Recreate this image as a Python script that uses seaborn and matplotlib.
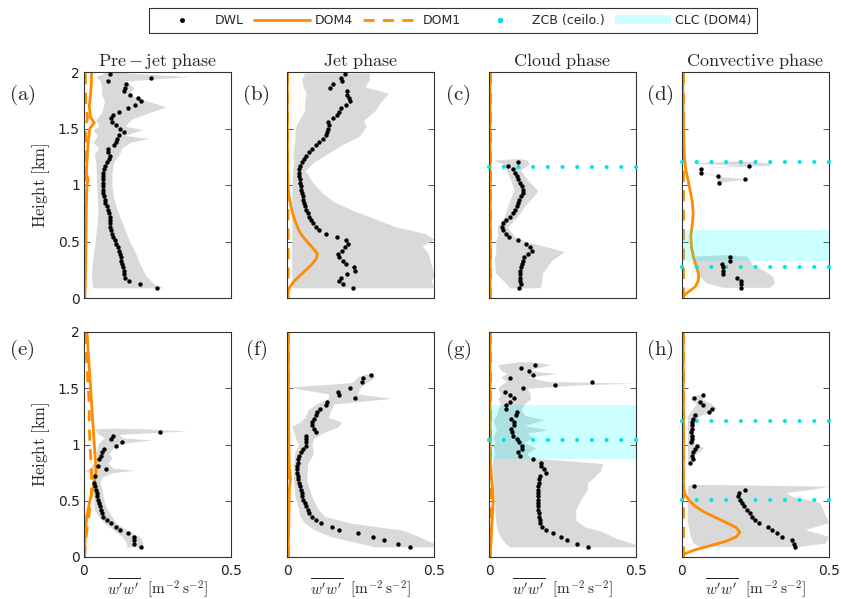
import numpy as np
import matplotlib
matplotlib.use("Agg")
import matplotlib.pyplot as plt
from matplotlib.lines import Line2D
from matplotlib.patches import Patch
import seaborn as sns

nan = float("nan")

# ---------------- data ----------------
# DWL range-gate heights (km)
gates = [0.09, 0.12, 0.15, 0.18, 0.21, 0.24, 0.27, 0.30, 0.33, 0.36,
         0.39, 0.42, 0.45, 0.48, 0.51, 0.54, 0.57, 0.60, 0.63, 0.66,
         0.69, 0.72, 0.75, 0.78, 0.81, 0.84, 0.87, 0.90, 0.93, 0.96,
         0.99, 1.02, 1.05, 1.08, 1.11, 1.14, 1.17, 1.20, 1.23, 1.26,
         1.29, 1.32, 1.35, 1.38, 1.41, 1.44, 1.47, 1.50, 1.53, 1.56,
         1.59, 1.62, 1.65, 1.68, 1.71, 1.74, 1.77, 1.80, 1.83, 1.86,
         1.89, 1.92, 1.95, 1.98]

N10 = [nan] * 10
N4 = [nan] * 4

dwl_a = [.248, .189, .153, .139, .135, .136, .133, .130, .127, .125,
         .122, .118, .114, .108, .104, .099, .096, .092, .090, .088,
         .088, .087, .086, .081, .077, .073, .071, .068, .065, .064,
         .064, .063, .063, .064, .065, .069, .072, .079, .086, .088,
         .082, .082, .101, .110, .113, .120, .135, .122, .110, .096,
         .093, .100, .120, .150, .175, .195, .185, .155, .135, .139,
         .144, .083, .229, .090]
dwl_b = [.223, .190, .178, .182, .205, .231, .228, .200, .190, .178,
         .175, .186, .197, .209, .200, .169, .133, .110, .098, .090,
         .082, .075, .070, .066, .061, .058, .056, .053, .051, .049,
         .047, .045, .043, .041, .040, .041, .044, .050, .058, .065,
         .075, .086, .099, .110, .122, .133, .137, .141, .143, .141,
         .155, .169, .177, .184, .200, .214, .212, .205, .204, .146,
         .158, .186, .184, .197]
dwl_c = [.102, .108, .106, .105, .105, .106, .108, .113, .117, .119,
         .131, .145, .141, .125, .100, .069, .057, .049, .043, .046,
         .057, .070, .080, .090, .095, .099, .103, .108, .114, .117,
         .112, .106, .100, .095, .088, .080, .063, .100, nan, nan] + N10 + N10 + N4
dwl_d = [.200, .200, .200, .186, .140, .140, .140, .136, .164, .164] + N10 + N10 + \
        [nan, .125, .214, .121, .065, .065, .229, nan, nan, nan] + N10 + N10 + N4
dwl_e = [.194, .170, .170, .170, .151, .122, .109, .091, .077, .066,
         .060, .057, .054, .051, .049, .045, .043, .040, .036, .034,
         nan, .037, nan, .075, .049, nan, .052, .057, .060, .068,
         .109, .128, .092, .098, .258, nan, nan, nan, nan, nan] + N10 + N10 + N4
dwl_f = [.418, .379, .331, .294, .243, .178, .152, .116, .097, .084,
         .075, .070, .066, .061, .056, .052, .050, .048, .044, .041,
         .039, .036, .034, .033, .034, .036, .039, .041, .048, .056,
         .064, .065, .065, .063, .097, .093, .086, .086, .093, .097,
         .101, .112, .131, .135, .231, .178, .175, .214, nan, .254,
         .260, .286, nan, nan, nan, nan, nan, nan, nan, nan] + N4
dwl_g = [.337, .299, .267, .244, .218, .193, .179, .174, .174, .171,
         .171, .168, .167, .165, .165, .167, .167, .168, .168, .171,
         .171, .174, .193, .188, .176, .176, .148, .106, .099, .112,
         .112, .103, .095, .083, .077, .074, .086, .086, .074, .091,
         .095, .057, .057, .072, .086, .072, .054, .117, .225, .352,
         .072, .151, .137, .108, .157, nan, nan, nan, nan, nan] + N4
dwl_h = [.384, .381, .373, .339, .324, .305, .293, .263, .248, .237,
         .231, .222, .211, .203, .197, .189, .195, .214, .041, nan,
         nan, nan, nan, nan, nan, .027, .036, .034, .036, .045,
         .050, .031, .033, .033, .032, .033, .033, .033, .036, .045,
         .093, .101, .073, .060, .041, .070, nan, nan, nan, nan] + N10 + N4

# DWL variability envelope (heights, lower, upper)
env_h_a = [0.09, 0.12, 0.20, 0.30, 0.40, 0.50, 0.60, 0.70, 0.80, 0.90, 1.00, 1.10, 1.20, 1.27,
           1.33, 1.38, 1.41, 1.44, 1.49, 1.52, 1.58, 1.64, 1.69, 1.74, 1.80, 1.86, 1.92, 1.96, 1.99, 2.00]
env_lo_a = [.030, .028, .025, .028, .032, .038, .042, .046, .048, .045, .043, .042, .040, .035,
            .050, .030, .040, .045, .030, .050, .040, .060, .065, .070, .060, .060, .055, .040, .070, .070]
env_hi_a = [.270, .240, .210, .190, .175, .155, .140, .125, .110, .100, .095, .095, .100, .120,
            .130, .160, .220, .140, .200, .140, .160, .220, .280, .220, .150, .170, .140, .360, .150, .120]

env_h_b = [0.09, 0.15, 0.20, 0.30, 0.40, 0.46, 0.52, 0.57, 0.63, 0.70, 0.78, 0.85, 0.93, 1.03,
           1.13, 1.20, 1.28, 1.36, 1.43, 1.52, 1.57, 1.66, 1.74, 1.81, 1.87, 1.93, 1.99]
env_lo_b = [.016, .016, .016, .016, .016, .016, .016, .016, .016, .016, .016, .016, .016, .018,
            .020, .022, .020, .025, .028, .030, .040, .060, .060, .065, .055, .050, .060]
env_hi_b = [.500, .490, .500, .490, .480, .460, .500, .470, .370, .300, .220, .160, .120, .085,
            .062, .090, .140, .190, .245, .270, .260, .300, .320, .345, .265, .280, .280]

env_h_c = [0.09, 0.10, 0.22, 0.34, 0.41, 0.455, 0.50, 0.543, 0.63, 0.72, 0.81, 0.926, 0.955,
           1.044, 1.133, 1.19, 1.22, 1.235]
env_lo_c = [.063, .069, .023, .018, .023, .023, .023, .029, .029, .052, .063, .080, .085,
            .074, .057, .046, .015, .100]
env_hi_c = [.165, .176, .182, .216, .256, .193, .125, .086, .063, .097, .120, .160, .165,
            .131, .108, .137, .130, .100]

env_h_d = [0.09, 0.13, 0.19, 0.24, 0.28, 0.336, 0.366, 0.38, 0.5,
           1.02, 1.05, 1.07, 1.11, 1.15, 1.17, 1.19, 1.21]
env_lo_d = [.140, .084, .061, .050, .044, .038, .030, .150, nan,
            .120, .120, .120, .060, .060, .200, .030, .200]
env_hi_d = [.300, .316, .310, .280, .243, .231, .220, .150, nan,
            .130, .220, .130, .070, .070, .300, .300, .200]

env_h_e = [0.09, 0.13, 0.18, 0.24, 0.30, 0.36, 0.42, 0.48, 0.54, 0.60, 0.66, 0.71, 0.75, 0.77,
           0.79, 0.83, 0.88, 0.92, 0.97, 1.01, 1.04, 1.06, 1.09, 1.12, 1.14, 1.145]
env_lo_e = [.145, .145, .130, .100, .070, .050, .035, .033, .032, .030, .025, .025, .020, .003,
            .020, .030, .045, .040, .045, .050, .060, .070, .050, .040, .040, .100]
env_hi_e = [.200, .200, .190, .145, .110, .095, .080, .070, .065, .062, .055, .060, .100, .170,
            .100, .080, .095, .085, .100, .130, .230, .130, .120, .350, .200, .100]

env_h_f = [0.09, 0.12, 0.18, 0.24, 0.30, 0.36, 0.42, 0.54, 0.68, 0.83, 0.92, 1.00, 1.05, 1.10,
           1.16, 1.20, 1.24, 1.31, 1.36, 1.41, 1.45, 1.51, 1.55, 1.60, 1.63]
env_lo_f = [.300, .250, .150, .095, .061, .044, .039, .027, .022, .022, .025, .039, .030, .025,
            .016, .045, .060, .073, .100, .141, .141, .005, .220, .240, .270]
env_hi_f = [.500, .500, .450, .390, .220, .130, .107, .084, .067, .070, .090, .085, .090, .120,
            .175, .186, .140, .150, .160, .356, .240, .250, .270, .300, .290]

env_h_g = [0.09, 0.11, 0.17, 0.23, 0.27, 0.33, 0.42, 0.51, 0.60, 0.66, 0.71, 0.77, 0.83, 0.86,
           0.88, 0.92, 0.97, 1.02, 1.06, 1.10, 1.13, 1.17, 1.22, 1.26, 1.31, 1.36, 1.40, 1.45,
           1.50, 1.53, 1.545, 1.56, 1.60, 1.63, 1.66, 1.71, 1.735]
env_lo_g = [.070, .060, .040, .030, .025, .023, .020, .018, .016, .015, .015, .013, .012, .012,
            .015, .020, .015, .020, .015, .020, .025, .020, .015, .025, .030, .040, .030, .040,
            .030, .040, .050, .060, .040, .060, .040, .030, .100]
env_hi_g = [.500, .500, .430, .380, .324, .295, .295, .312, .335, .335, .358, .380, .386, .250,
            .140, .130, .160, .120, .150, .130, .200, .120, .188, .120, .110, .120, .140, .140,
            .130, .300, .500, .200, .130, .230, .130, .210, .150]

env_h_h = [0.09, 0.12, 0.18, 0.24, 0.30, 0.36, 0.42, 0.48, 0.54, 0.57, 0.60, 0.625, 0.64, 0.7,
           0.84, 0.90, 0.97, 1.00, 1.10, 1.20, 1.25, 1.32, 1.36, 1.40, 1.44]
env_lo_h = [.060, .040, .030, .025, .020, .020, .020, .020, .020, .020, .020, .020, .030, nan,
            .020, .020, .020, .020, .020, .020, .020, .040, .050, .030, .050]
env_hi_h = [.400, .490, .500, .420, .500, .490, .480, .470, .370, .356, .450, .500, .100, nan,
            .040, .045, .075, .045, .042, .045, .060, .120, .100, .070, .080]

# Model profiles: DOM4 (solid) and DOM1 (dashed)
dom4_h_a = [0, 0.2, 0.4, 0.6, 0.8, 1.0, 1.05, 1.1, 1.2, 1.3, 1.4, 1.5, 1.55, 1.6, 1.7, 1.8, 1.9, 2.0]
dom4_x_a = [.003, .005, .006, .007, .008, .010, .014, .008, .010, .012, .015, .020, .035, .022, .018, .022, .025, .026]
dom1_h_a = [0, 0.4, 0.8, 1.2, 1.5, 1.6, 1.7, 1.9, 2.0]
dom1_x_a = [.002, .003, .004, .005, .006, .012, .006, .005, .005]

dom4_h_b = [0, 0.05, 0.1, 0.15, 0.2, 0.25, 0.3, 0.35, 0.39, 0.42, 0.45, 0.5, 0.55, 0.6, 0.7, 0.8, 0.9, 1.0, 1.1, 1.5, 2.0]
dom4_x_b = [0, .002, .010, .025, .045, .065, .085, .100, .103, .095, .085, .068, .052, .040, .025, .014, .007, .003, .002, .001, .001]
dom1_h_b = [0, 0.5, 1.0, 1.5, 2.0]
dom1_x_b = [.004, .004, .003, .002, .002]

dom4_h_c = [0, 0.5, 1.0, 1.5, 2.0]
dom4_x_c = [.003, .004, .004, .003, .003]
dom1_h_c = [0, 0.5, 1.0, 1.5, 2.0]
dom1_x_c = [.002, .002, .002, .002, .002]

dom4_h_d = [0.0, 0.03, 0.06, 0.1, 0.15, 0.2, 0.27, 0.35, 0.45, 0.55, 0.65, 0.75, 0.85, 0.95, 1.05, 1.15, 1.25, 1.4, 1.6, 1.8, 2.0]
dom4_x_d = [.002, .010, .025, .045, .055, .057, .050, .040, .032, .030, .035, .038, .035, .028, .020, .012, .008, .006, .004, .003, .003]
dom1_h_d = [0, 0.5, 1.0, 1.5, 2.0]
dom1_x_d = [.002, .002, .002, .002, .002]

dom4_h_e = [0, 0.1, 0.2, 0.36, 0.5, 0.66, 0.76, 0.85, 1.0, 1.2, 1.4, 1.6, 1.8, 2.0]
dom4_x_e = [.000, .002, .005, .009, .020, .035, .041, .039, .035, .030, .025, .020, .015, .010]
dom1_h_e = [0, 0.2, 0.4, 0.55, 0.7, 0.85, 1.0, 1.2, 1.4, 1.6, 1.8, 2.0]
dom1_x_e = [.002, .008, .018, .025, .026, .024, .020, .018, .017, .012, .008, .005]

dom4_h_f = [0, 0.3, 0.6, 0.7, 0.8, 1.0, 1.5, 2.0]
dom4_x_f = [.003, .006, .008, .012, .008, .006, .005, .004]
dom1_h_f = [0, 0.5, 1.0, 1.5, 2.0]
dom1_x_f = [.002, .002, .002, .002, .002]

dom4_h_g = [0, 0.2, 0.4, 0.5, 0.6, 0.7, 0.8, 0.9, 1.0, 1.5, 2.0]
dom4_x_g = [.004, .008, .012, .014, .012, .009, .006, .004, .004, .003, .003]
dom1_h_g = [0, 0.5, 1.0, 1.5, 2.0]
dom1_x_g = [.002, .002, .002, .002, .002]

dom4_h_h = [0, 0.03, 0.06, 0.1, 0.14, 0.18, 0.22, 0.26, 0.3, 0.35, 0.4, 0.45, 0.5, 0.55, 0.6, 0.7, 0.8, 1.0, 1.2, 1.5, 2.0]
dom4_x_h = [.003, .010, .040, .095, .150, .185, .197, .185, .155, .115, .075, .045, .025, .012, .006, .004, .004, .005, .005, .004, .004]
dom1_h_h = [0, 0.5, 1.0, 1.5, 2.0]
dom1_x_h = [.002, .002, .002, .002, .002]

# Ceilometer cloud base (km) and DOM4 cloud layer (km)
zcb_c = [1.157]
zcb_d = [1.20, 0.274]
zcb_g = [1.043]
zcb_h = [1.206, 0.507]
clc_d = (0.327, 0.60)
clc_g = (0.871, 1.351)

titles = [r"$\mathrm{Pre-jet\ phase}$", r"$\mathrm{Jet\ phase}$",
          r"$\mathrm{Cloud\ phase}$", r"$\mathrm{Convective\ phase}$"]
panel_letters = ["a", "b", "c", "d", "e", "f", "g", "h"]
xticks = [0, 0.5]
xticklabels = ["0", "0.5"]
yticks = [0, 0.5, 1, 1.5, 2]
yticklabels = ["0", "0.5", "1", "1.5", "2"]

panels = [
    (dwl_a, (env_h_a, env_lo_a, env_hi_a), (dom4_h_a, dom4_x_a), (dom1_h_a, dom1_x_a), [], None),
    (dwl_b, (env_h_b, env_lo_b, env_hi_b), (dom4_h_b, dom4_x_b), (dom1_h_b, dom1_x_b), [], None),
    (dwl_c, (env_h_c, env_lo_c, env_hi_c), (dom4_h_c, dom4_x_c), (dom1_h_c, dom1_x_c), zcb_c, None),
    (dwl_d, (env_h_d, env_lo_d, env_hi_d), (dom4_h_d, dom4_x_d), (dom1_h_d, dom1_x_d), zcb_d, clc_d),
    (dwl_e, (env_h_e, env_lo_e, env_hi_e), (dom4_h_e, dom4_x_e), (dom1_h_e, dom1_x_e), [], None),
    (dwl_f, (env_h_f, env_lo_f, env_hi_f), (dom4_h_f, dom4_x_f), (dom1_h_f, dom1_x_f), [], None),
    (dwl_g, (env_h_g, env_lo_g, env_hi_g), (dom4_h_g, dom4_x_g), (dom1_h_g, dom1_x_g), zcb_g, clc_g),
    (dwl_h, (env_h_h, env_lo_h, env_hi_h), (dom4_h_h, dom4_x_h), (dom1_h_h, dom1_x_h), zcb_h, None),
]

# ---------------- style ----------------
sns.set_style("white")
plt.rcParams["font.family"] = ["DejaVu Sans"]
plt.rcParams["mathtext.fontset"] = "cm"

ORANGE = "#ff8c00"
GRAY = "#d9d9d9"
CYAN = "#00e5e5"
W, H = 841, 599

fig = plt.figure(figsize=(W / 100, H / 100), dpi=100)

lefts = [84, 287, 489, 682]
axw = 147
rows = [(72, 298), (332, 557)]

for i, (dwl, env, dom4, dom1, zcb, clc) in enumerate(panels):
    r, c = divmod(i, 4)
    top, bot = rows[r]
    ax = fig.add_axes([lefts[c] / W, 1 - bot / H, axw / W, (bot - top) / H])

    ax.fill_betweenx(env[0], env[1], env[2], color=GRAY, lw=0, zorder=1)
    sns.lineplot(x=dom1[1], y=dom1[0], sort=False, estimator=None, ax=ax,
                 color=ORANGE, lw=2, linestyle=(0, (4, 3)), zorder=2)
    sns.lineplot(x=dom4[1], y=dom4[0], sort=False, estimator=None, ax=ax,
                 color=ORANGE, lw=2, zorder=2.2)
    if clc is not None:
        ax.axhspan(clc[0], clc[1], color="cyan", alpha=0.2, lw=0, zorder=2.5)
    for z in zcb:
        ax.axhline(z, xmax=1.004, color=CYAN, lw=3, linestyle=(0, (0.001, 3.527)),
                   dash_capstyle="round", zorder=3, clip_on=False)
    sns.scatterplot(x=dwl, y=gates, color="black", s=10, linewidth=0, ax=ax, zorder=4)

    ax.set_xlim(0, 0.5)
    ax.set_ylim(0, 2)
    ax.set_xticks(xticks)
    ax.set_yticks(yticks)
    ax.tick_params(direction="in", left=True, right=True, bottom=True, length=4,
                   width=0.7, color="#555555", labelsize=10, labelcolor="#222222")
    ax.tick_params(axis="y", pad=3)
    ax.tick_params(axis="x", pad=5)
    for s in ax.spines.values():
        s.set_color("#333333")
        s.set_linewidth(0.8)
    ax.set_xlabel("")
    ax.set_ylabel("")
    if c == 0:
        ax.set_yticklabels(yticklabels)
        ax.set_ylabel(r"$\mathrm{Height\ [km]}$", fontsize=12)
        ax.yaxis.set_label_coords(-0.215, 0.5)
    else:
        ax.set_yticklabels([])
    if r == 1:
        ax.set_xticklabels(xticklabels)
        ax.set_xlabel(r"$\overline{w'w'}\ \ [\mathrm{m}^{-2}\,\mathrm{s}^{-2}]$", fontsize=11)
        ax.xaxis.set_label_coords(0.5, -0.088)
    else:
        ax.set_xticklabels([])
        ax.set_title(titles[c], fontsize=13, pad=4)

    lx = [22, 256, 458, 660][c]
    ly = [95, 350][r]
    fig.text(lx / W, 1 - ly / H, r"$(\mathrm{%s})$" % panel_letters[i], fontsize=15,
             ha="center", va="center")

handles = [
    Line2D([], [], color="black", marker="o", ms=2.5, lw=0),
    Line2D([], [], color=ORANGE, lw=2),
    Line2D([], [], color=ORANGE, lw=2, linestyle=(0, (4, 3))),
    Line2D([], [], color=CYAN, marker="o", ms=3, lw=0),
    Patch(facecolor="cyan", alpha=0.2, edgecolor="none"),
]
labels = ["DWL", "DOM4", "DOM1", "ZCB (ceilo.)", "CLC (DOM4)"]
leg = fig.legend(handles, labels, loc="upper center", bbox_to_anchor=(453 / W, 1 - 2 / H),
                 ncol=5, frameon=True, fancybox=False, fontsize=9, handlelength=4.5,
                 handletextpad=0.35, columnspacing=0.8, borderpad=0.45)
leg.get_frame().set_edgecolor("black")
leg.get_frame().set_linewidth(0.8)

fig.savefig("out.png", dpi=100)
